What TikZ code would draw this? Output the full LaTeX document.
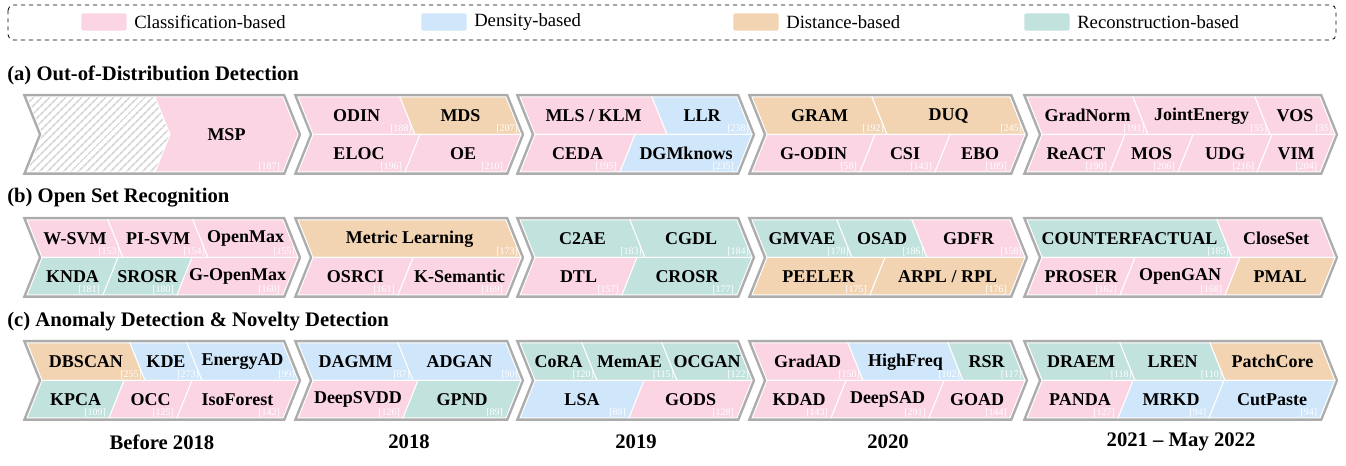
\documentclass[tikz,border=0pt]{standalone}
\usepackage{fontspec}
\setmainfont{Liberation Serif}
\usetikzlibrary{patterns.meta}

\definecolor{clsC}{RGB}{251,213,228}
\definecolor{denC}{RGB}{208,230,251}
\definecolor{disC}{RGB}{242,212,178}
\definecolor{recC}{RGB}{194,226,221}
\definecolor{rimC}{RGB}{172,172,172}

\newcommand{\dd}{15}
\newcommand{\hh}{37.5}

% gray chevron rim: #1 top, #2 left, #3 right
\newcommand{\rim}[3]{%
  \draw[rimC, line width=4.5pt] (#2,#1) -- (#3,#1) -- ({#3+\dd},{#1+\hh}) -- (#3,{#1+2*\hh})
    -- (#2,{#1+2*\hh}) -- ({#2+\dd},{#1+\hh}) -- cycle;
}
% upper cell: #1 name, #2 top, #3 left, #4 right, #5 colour, #6 label, #7 ref
\newcommand{\upcell}[7]{%
  \filldraw[#5, draw=white, line width=0.75pt] (#3,#2) -- (#4,#2) -- ({#4+\dd},{#2+\hh}) -- ({#3+\dd},{#2+\hh}) -- cycle;
  \node[lbl] (#1) at ({(#3+#4)/2+\dd/2},{#2+\hh/2}) {#6};
  \node[cite] (#1r) at ({#4+\dd-2},{#2+\hh-0.5}) {#7};
}
% lower cell: same arguments, x taken at the bottom edge
\newcommand{\lowcell}[7]{%
  \filldraw[#5, draw=white, line width=0.75pt] ({#3+\dd},{#2+\hh}) -- ({#4+\dd},{#2+\hh}) -- (#4,{#2+2*\hh}) -- (#3,{#2+2*\hh}) -- cycle;
  \node[lbl] (#1) at ({(#3+#4)/2+\dd/2},{#2+1.5*\hh}) {#6};
  \node[cite] (#1r) at ({#4-2},{#2+2*\hh-0.5}) {#7};
}

\tikzset{
  lbl/.style={font=\fontsize{13.5}{15}\selectfont\bfseries, inner sep=0pt},
  cite/.style={font=\fontsize{7.5}{8}\selectfont, text=white, anchor=south east, inner sep=0.5pt},
  ttl/.style={font=\fontsize{15.5}{17}\selectfont\bfseries, anchor=west, inner sep=0pt},
  yr/.style={font=\fontsize{15.5}{17}\selectfont\bfseries, inner sep=0pt},
  key/.style={fill=#1, anchor=west, minimum width=34pt, minimum height=13pt, inner sep=0pt, rounded corners=1.5pt},
  keytxt/.style={font=\fontsize{14}{16}\selectfont, anchor=west, inner sep=0pt}
}

\begin{document}
\begin{tikzpicture}[x=0.75pt, y=-0.75pt]
\useasboundingbox (0,0) rectangle (1346,466);

% legend
\draw[dashed, line width=0.6pt, rounded corners=4pt] (8,5) rectangle (1336,40);
\node[key=clsC] (kcls) at (81,22) {};
\node[keytxt] (tcls) at (134,22) {Classification-based};
\node[key=denC] (kden) at (421,22) {};
\node[keytxt] (tden) at (474,22) {Density-based};
\node[key=disC] (kdis) at (733,22) {};
\node[keytxt] (tdis) at (786,22) {Distance-based};
\node[key=recC] (krec) at (1024,22) {};
\node[keytxt] (trec) at (1077,22) {Reconstruction-based};

% (a) OOD detection
\node[ttl] (ta) at (7,75) {(a) Out-of-Distribution Detection};
\rim{97}{27}{283}
\filldraw[white, line width=0.75pt]
  (27,97) -- (155,97) -- (170,134.5) -- (155,172) -- (27,172) -- (42,134.5) -- cycle;
\fill[pattern={Lines[angle=45, distance=4pt, line width=1.2pt]}, pattern color=gray!35]
  (27.5,97.5) -- (155,97.5) -- (170,134.5) -- (155,171.5) -- (27.5,171.5) -- (42.5,134.5) -- cycle;
\filldraw[clsC, draw=white, line width=0.75pt]
  (155,97) -- (283,97) -- (298,134.5) -- (283,172) -- (155,172) -- (170,134.5) -- cycle;
\node[lbl] (msp) at (226.5,134.5) {MSP};
\node[cite] (mspr) at (281,171.5) {[187]};

\rim{97}{298}{506}
\upcell{odin}{97}{298}{400}{clsC}{ODIN}{[188]}
\upcell{mds}{97}{400}{506}{disC}{MDS}{[207]}
\lowcell{eloc}{97}{298}{405}{clsC}{ELOC}{[196]}
\lowcell{oe}{97}{405}{506}{clsC}{OE}{[210]}

\rim{97}{520}{737}
\upcell{mls}{97}{520}{652}{clsC}{MLS / KLM}{}
\upcell{llr}{97}{652}{737}{denC}{LLR}{[238]}
\lowcell{ceda}{97}{520}{620}{clsC}{CEDA}{[195]}
\lowcell{dgm}{97}{620}{737}{denC}{DGMknows}{[235]}

\rim{97}{752}{1010}
\upcell{gram}{97}{752}{872}{disC}{GRAM}{[192]}
\upcell{duq}{97}{872}{1010}{disC}{DUQ}{[245]}
\lowcell{godin}{97}{752}{860}{clsC}{G-ODIN}{[58]}
\lowcell{csi}{97}{860}{935}{clsC}{CSI}{[143]}
\lowcell{ebo}{97}{935}{1010}{clsC}{EBO}{[189]}

\rim{97}{1027}{1320}
\upcell{gnorm}{97}{1027}{1133}{clsC}{GradNorm}{[191]}
\upcell{jener}{97}{1133}{1255}{clsC}{JointEnergy}{[55]}
\upcell{vos}{97}{1255}{1320}{clsC}{VOS}{[35]}
\lowcell{react}{97}{1027}{1110}{clsC}{ReACT}{[190]}
\lowcell{mos}{97}{1110}{1178}{clsC}{MOS}{[206]}
\lowcell{udg}{97}{1178}{1257}{clsC}{UDG}{[216]}
\lowcell{vim}{97}{1257}{1320}{clsC}{VIM}{[204]}

% (b) open set recognition
\node[ttl] (tb) at (7,198) {(b) Open Set Recognition};
\rim{220}{27}{283}
\upcell{wsvm}{220}{27}{108}{clsC}{W-SVM}{[153]}
\upcell{pisvm}{220}{108}{193}{clsC}{PI-SVM}{[154]}
\upcell{omax}{220}{193}{283}{clsC}{OpenMax}{[155]}
\lowcell{knda}{220}{27}{103}{recC}{KNDA}{[181]}
\lowcell{srosr}{220}{103}{177}{recC}{SROSR}{[180]}
\lowcell{gomax}{220}{177}{283}{clsC}{G-OpenMax}{[160]}

\rim{220}{298}{506}
\upcell{metric}{220}{298}{506}{disC}{Metric Learning}{[173]}
\lowcell{osrci}{220}{298}{398}{clsC}{OSRCI}{[161]}
\lowcell{ksem}{220}{398}{506}{clsC}{K-Semantic}{[169]}

\rim{220}{520}{737}
\upcell{c2ae}{220}{520}{630}{recC}{C2AE}{[183]}
\upcell{cgdl}{220}{630}{737}{recC}{CGDL}{[184]}
\lowcell{dtl}{220}{520}{622}{clsC}{DTL}{[157]}
\lowcell{crosr}{220}{622}{737}{recC}{CROSR}{[177]}

\rim{220}{752}{1010}
\upcell{gmvae}{220}{752}{837}{recC}{GMVAE}{[178]}
\upcell{osad}{220}{837}{912}{recC}{OSAD}{[186]}
\upcell{gdfr}{220}{912}{1010}{clsC}{GDFR}{[158]}
\lowcell{peeler}{220}{752}{870}{disC}{PEELER}{[175]}
\lowcell{arpl}{220}{870}{1010}{disC}{ARPL / RPL}{[176]}

\rim{220}{1027}{1320}
\upcell{cfact}{220}{1027}{1217}{recC}{COUNTERFACTUAL}{[185]}
\upcell{closet}{220}{1217}{1320}{clsC}{CloseSet}{}
\lowcell{proser}{220}{1027}{1120}{clsC}{PROSER}{[162]}
\lowcell{ogan}{220}{1120}{1225}{clsC}{OpenGAN}{[168]}
\lowcell{pmal}{220}{1225}{1320}{disC}{PMAL}{}

% (c) anomaly & novelty detection
\node[ttl] (tc) at (7,322) {(c) Anomaly Detection \& Novelty Detection};
\rim{343}{27}{283}
\upcell{dbscan}{343}{27}{130}{disC}{DBSCAN}{[255]}
\upcell{kde}{343}{130}{187}{denC}{KDE}{[273]}
\upcell{enead}{343}{187}{283}{denC}{EnergyAD}{[99]}
\lowcell{kpca}{343}{27}{109}{recC}{KPCA}{[109]}
\lowcell{occ}{343}{109}{177}{clsC}{OCC}{[125]}
\lowcell{isof}{343}{177}{283}{clsC}{IsoForest}{[142]}

\rim{343}{298}{506}
\upcell{dagmm}{343}{298}{398}{denC}{DAGMM}{[87]}
\upcell{adgan}{343}{398}{506}{denC}{ADGAN}{[90]}
\lowcell{dsvdd}{343}{298}{403}{clsC}{DeepSVDD}{[126]}
\lowcell{gpnd}{343}{403}{506}{recC}{GPND}{[89]}

\rim{343}{520}{737}
\upcell{cora}{343}{520}{582}{recC}{CoRA}{[120]}
\upcell{memae}{343}{582}{662}{recC}{MemAE}{[115]}
\upcell{ocgan}{343}{662}{737}{recC}{OCGAN}{[122]}
\lowcell{lsa}{343}{520}{629}{denC}{LSA}{[88]}
\lowcell{gods}{343}{629}{737}{clsC}{GODS}{[128]}

\rim{343}{752}{1010}
\upcell{gradad}{343}{752}{848}{clsC}{GradAD}{[150]}
\upcell{hfreq}{343}{848}{948}{denC}{HighFreq}{[102]}
\upcell{rsr}{343}{948}{1010}{recC}{RSR}{[117]}
\lowcell{kdad}{343}{752}{831}{clsC}{KDAD}{[143]}
\lowcell{dsad}{343}{831}{929}{clsC}{DeepSAD}{[291]}
\lowcell{goad}{343}{929}{1010}{clsC}{GOAD}{[144]}

\rim{343}{1027}{1320}
\upcell{draem}{343}{1027}{1120}{recC}{DRAEM}{[118]}
\upcell{lren}{343}{1120}{1210}{recC}{LREN}{[110]}
\upcell{pcore}{343}{1210}{1320}{disC}{PatchCore}{}
\lowcell{panda}{343}{1027}{1118}{clsC}{PANDA}{[127]}
\lowcell{mrkd}{343}{1118}{1209}{denC}{MRKD}{[94]}
\lowcell{cpaste}{343}{1209}{1320}{denC}{CutPaste}{[94]}

% years
\node[yr] (y1) at (162,442) {Before 2018};
\node[yr] (y2) at (409,442) {2018};
\node[yr] (y3) at (636,442) {2019};
\node[yr] (y4) at (888,442) {2020};
\node[yr] (y5) at (1181,442) {2021 -- May 2022};
\end{tikzpicture}
\end{document}
